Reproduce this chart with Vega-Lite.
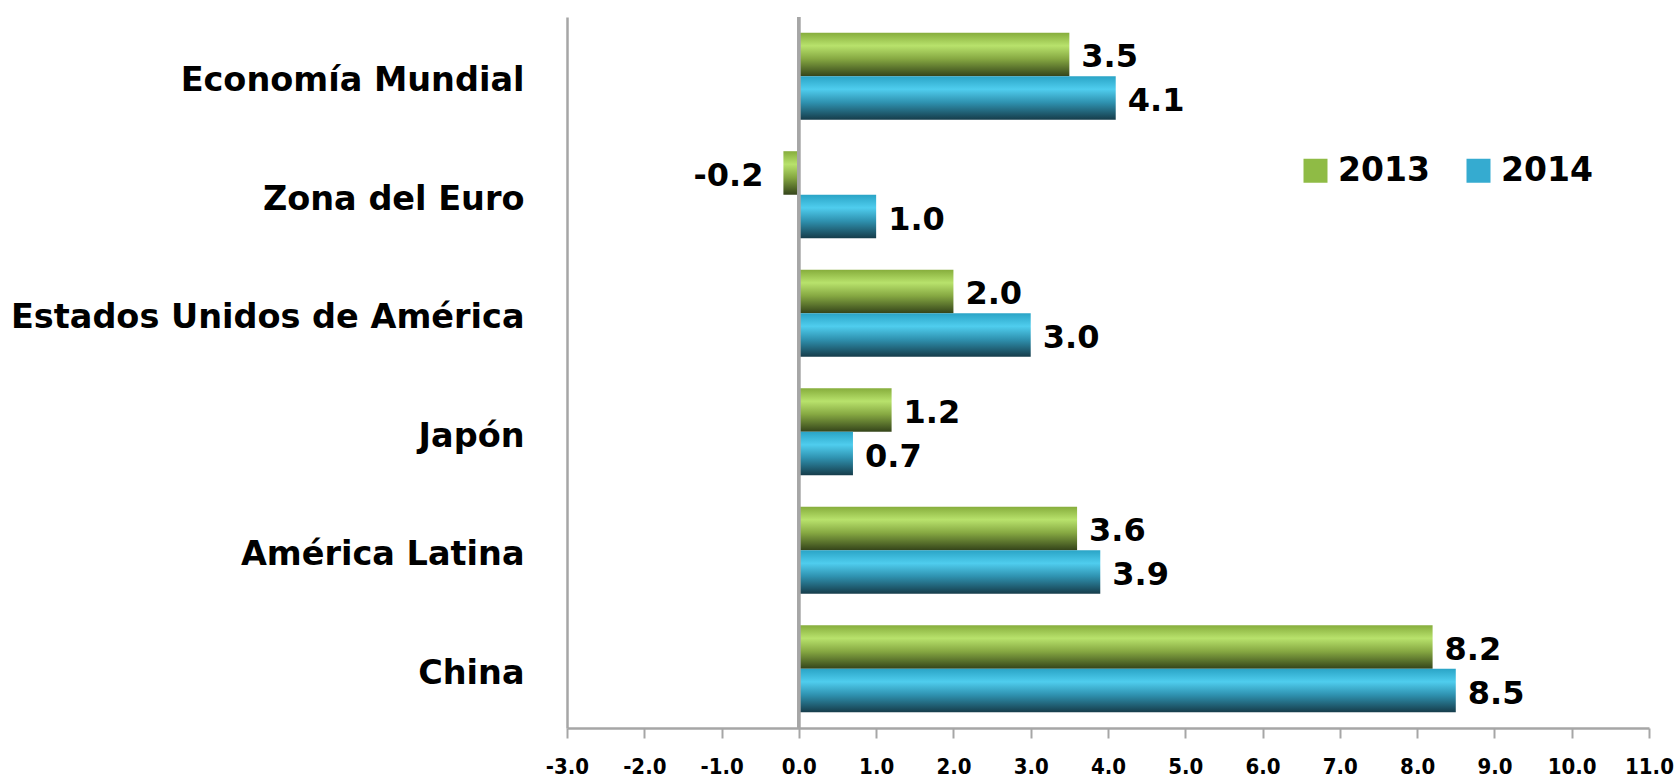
{
  "$schema": "https://vega.github.io/schema/vega-lite/v6.json",
  "autosize": {"type": "none"},
  "padding": {"left": 567, "top": 17, "right": 29, "bottom": 49},
  "width": 1082,
  "height": 711,
  "background": "white",
  "config": {"view": {"stroke": null}},
  "data": {"values": [
    {"region": "Economía Mundial", "year": "2013", "value": 3.5},
    {"region": "Economía Mundial", "year": "2014", "value": 4.1},
    {"region": "Zona del Euro", "year": "2013", "value": -0.2},
    {"region": "Zona del Euro", "year": "2014", "value": 1.0},
    {"region": "Estados Unidos de América", "year": "2013", "value": 2.0},
    {"region": "Estados Unidos de América", "year": "2014", "value": 3.0},
    {"region": "Japón", "year": "2013", "value": 1.2},
    {"region": "Japón", "year": "2014", "value": 0.7},
    {"region": "América Latina", "year": "2013", "value": 3.6},
    {"region": "América Latina", "year": "2014", "value": 3.9},
    {"region": "China", "year": "2013", "value": 8.2},
    {"region": "China", "year": "2014", "value": 8.5}
  ]},
  "encoding": {
    "y": {"field": "region", "type": "nominal", "sort": null,
      "scale": {"paddingInner": 0.265, "paddingOuter": 0.1325},
      "axis": {"title": null, "ticks": false, "labelFont": "DejaVu Sans", "labelFontWeight": "bold", "labelFontSize": 33.5, "labelColor": "#000000", "labelPadding": 43, "labelOffset": 5, "domainColor": "#a6a6a6", "domainWidth": 2.5, "labelLimit": 700}},
    "yOffset": {"field": "year", "type": "nominal", "scale": {"domain": ["2013", "2014"], "paddingInner": 0, "paddingOuter": 0}},
    "x": {"field": "value", "type": "quantitative",
      "scale": {"domain": [-3, 11], "nice": false, "zero": false},
      "axis": {"title": null, "grid": false, "values": [-3,-2,-1,0,1,2,3,4,5,6,7,8,9,10,11],
        "labelExpr": "replace(format(datum.value, '.1f'), '\u2212', '-')", "labelFlush": false,
        "tickSize": 10, "tickColor": "#a6a6a6", "tickWidth": 2, "domainColor": "#a6a6a6", "domainWidth": 2.5, "labelFont": "DejaVu Sans Condensed", "labelFontWeight": "bold", "labelFontSize": 22, "labelColor": "#000000", "labelPadding": 18}}
  },
  "layer": [
    {
      "mark": {"type": "bar", "opacity": 0},
      "encoding": {
        "color": {"field": "year", "type": "nominal",
          "scale": {"domain": ["2013", "2014"], "range": ["#8fbb45", "#35abd0"]},
          "legend": {"title": null, "orient": "none", "legendX": 732, "legendY": 137, "direction": "horizontal", "symbolType": "square", "symbolSize": 576, "symbolOpacity": 1, "symbolStrokeWidth": 0, "labelFont": "DejaVu Sans", "labelFontWeight": "bold", "labelFontSize": 33, "labelColor": "#000000", "labelOffset": 6, "columnPadding": 32}}
      }
    },
    {
      "transform": [{"filter": "datum.year == '2013'"}],
      "mark": {"type": "bar", "color": {"gradient": "linear", "x1": 0, "y1": 0, "x2": 0, "y2": 1, "stops": [
              {"offset": 0, "color": "#86ad3c"}, {"offset": 0.3, "color": "#b8e26c"}, {"offset": 0.6, "color": "#86a842"}, {"offset": 1, "color": "#34441a"}]}}
    },
    {
      "transform": [{"filter": "datum.year == '2014'"}],
      "mark": {"type": "bar", "color": {"gradient": "linear", "x1": 0, "y1": 0, "x2": 0, "y2": 1, "stops": [
              {"offset": 0, "color": "#2aa4c6"}, {"offset": 0.3, "color": "#4fcdee"}, {"offset": 0.6, "color": "#2f92b0"}, {"offset": 1, "color": "#163c4a"}]}}
    },
    {
      "mark": {"type": "rule", "color": "#a6a6a6", "strokeWidth": 2.5},
      "encoding": {"x": {"datum": 0}, "y": null, "yOffset": null}
    },
    {
      "mark": {"type": "text", "font": "DejaVu Sans", "fontWeight": "bold", "fontSize": 32, "color": "#000000", "baseline": "middle",
        "align": {"expr": "datum.value < 0 ? 'right' : 'left'"},
        "dx": {"expr": "datum.value < 0 ? -20 : 12"}, "dy": 3,
        "text": {"expr": "replace(format(datum.value, '.1f'), '\u2212', '-')"}}
    }
  ]
}
